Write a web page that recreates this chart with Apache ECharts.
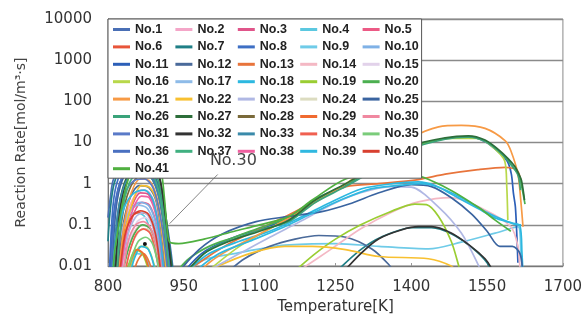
<!DOCTYPE html>
<html>
<head>
<meta charset="utf-8">
<script src="https://cdn.jsdelivr.net/npm/echarts@6/dist/echarts.min.js"></script>
<style>
  html, body { margin: 0; padding: 0; background: #fff; }
  #main { width: 585px; height: 320px; }
</style>
</head>
<body>
<div id="main"></div>
<script>
// 温度[K]と反応速度の組 [T, rate]、null は線の切れ目
var no1 = [[800,0.15],[805,0.5],[811,1.3],[829,2.8],[849,3.0],[869,2.7],[889,1.7],[906,0.55],[916,0.12],[924,0.025],[930,0.006]];
var no2 = [[820,0.008],[832,0.1],[848,0.4],[866,0.7],[882,0.6],[897,0.2],[907,0.02],[912,0.006]];
var no3 = [[822,0.008],[833,0.07],[848,0.3],[864,0.6],[880,0.55],[895,0.2],[906,0.03],[913,0.005]];
var no4 = [[812,0.008],[822,0.05],[838,0.15],[856,0.2],[874,0.15],[890,0.04],[900,0.008]];
var no5 = [[828,0.008],[838,0.05],[852,0.2],[867,0.35],[882,0.3],[896,0.1],[905,0.015],[910,0.005]];
var no6 = [[820,0.008],[830,0.05],[845,0.15],[862,0.2],[880,0.17],[895,0.05],[905,0.008]];
var no7 = [[800,0.04],[804,0.2],[812,1.0],[828,2.4],[848,2.9],[870,2.6],[890,1.5],[907,0.4],[917,0.08],[925,0.015],[930,0.005],[1000,null],
  [1255,0.008],[1300,0.025],[1340,0.05],[1400,0.085],[1440,0.085],[1480,0.06],[1520,0.028],[1550,0.012],[1560,0.006]];
var no8 = [[803,0.008],[810,0.3],[820,1.3],[836,2.4],[856,2.6],[876,2.1],[894,1.0],[908,0.25],[918,0.04],[926,0.008]];
var no9 = [[835,0.005],[845,0.012],[858,0.02],[872,0.018],[885,0.008],[892,0.004],[920,null],
  [950,0.006],[990,0.014],[1050,0.02],[1150,0.032],[1250,0.035],[1336,0.03],[1434,0.026],[1499,0.038],[1566,0.063],[1611,0.09],[1617,0.02],[1620,0.006]];
var no10 = [[818,0.008],[830,0.08],[846,0.25],[864,0.35],[882,0.28],[897,0.08],[906,0.01],[910,0.004]];
var no11 = [[805,0.008],[812,0.2],[823,1.0],[840,2.0],[862,2.2],[884,1.5],[900,0.6],[911,0.12],[920,0.02],[926,0.005],[935,null],
  [945,0.006],[985,0.02],[1040,0.045],[1100,0.08],[1158,0.14],[1210,0.42],[1270,0.9],[1336,2.6],[1400,7.5],[1467,12.5],[1513,13.8],[1546,10.5],[1572,6],[1590,3.5],[1598,1.7],[1602,0.6],[1606,0.27],[1609,0.05],[1611,0.012]];
var no12 = [[820,0.008],[830,0.1],[845,0.5],[862,0.9],[881,0.8],[896,0.35],[907,0.05],[914,0.008],[960,null],
  [1030,0.006],[1070,0.015],[1120,0.03],[1170,0.045],[1217,0.055],[1271,0.05],[1322,0.026],[1355,0.011],[1370,0.006]];
var no13 = [[848,0.005],[858,0.013],[870,0.02],[882,0.012],[892,0.004],[910,null],
  [930,0.004],[980,0.012],[1040,0.035],[1100,0.08],[1160,0.18],[1220,0.45],[1271,0.85],[1336,1.0],[1414,1.26],[1467,1.7],[1532,2.2],[1586,2.5],[1605,2.3],[1611,2.0],[1617,1.2]];
var no14 = [[826,0.008],[840,0.03],[856,0.08],[872,0.1],[888,0.06],[900,0.01],[1000,null],
  [1180,0.008],[1240,0.025],[1300,0.08],[1360,0.2],[1414,0.36],[1479,0.46],[1546,0.23],[1597,0.09],[1611,0.03],[1615,0.008]];
var no15 = [[830,0.008],[842,0.04],[858,0.12],[874,0.15],[890,0.08],[902,0.01]];
var no16 = [[838,0.005],[850,0.015],[864,0.03],[878,0.028],[892,0.01],[898,0.004],[950,null],
  [1000,0.008],[1060,0.03],[1120,0.08],[1180,0.22],[1240,0.6],[1300,1.6],[1360,4.5],[1420,9],[1480,12.5],[1530,12.5],[1560,8],[1585,3.5],[1589,0.8],[1591,0.13]];
var no17 = [[815,0.008],[826,0.06],[842,0.2],[860,0.3],[878,0.25],[894,0.08],[904,0.01],[908,0.004]];
var no18 = [[842,0.005],[852,0.015],[866,0.03],[880,0.025],[893,0.008],[920,null],
  [960,0.008],[1000,0.02],[1060,0.04],[1120,0.07],[1180,0.15],[1240,0.35],[1302,0.75],[1363,1.0],[1414,1.1],[1447,0.9],[1480,0.55],[1532,0.25],[1570,0.14],[1600,0.11],[1615,0.095],[1619,0.02],[1621,0.006]];
var no19 = [[832,0.005],[842,0.012],[855,0.025],[868,0.02],[880,0.008],[886,0.004],[1000,null],
  [1172,0.008],[1210,0.02],[1250,0.045],[1300,0.1],[1355,0.2],[1407,0.32],[1430,0.31],[1454,0.16],[1479,0.04],[1493,0.011],[1498,0.006]];
var no20 = [[828,0.005],[838,0.02],[852,0.06],[868,0.1],[884,0.08],[896,0.03],[905,0.008],[915,null],
  [930,0.006],[960,0.015],[1000,0.03],[1050,0.05],[1100,0.085],[1158,0.15],[1204,0.38],[1270,0.95],[1336,2.8],[1400,7.8],[1467,12.5],[1513,14],[1546,11],[1572,6.5],[1590,3.8],[1600,2.6],[1612,1.7],[1618,0.9],[1625,0.32]];
var no21 = [[822,0.008],[832,0.1],[846,0.6],[864,1.3],[881,1.2],[896,0.5],[907,0.08],[915,0.012],[920,0.004],[940,null],
  [970,0.005],[1000,0.012],[1040,0.025],[1100,0.06],[1160,0.15],[1220,0.42],[1271,1.0],[1336,3.8],[1400,13],[1454,24],[1499,26],[1546,22],[1586,11],[1597,6.3],[1611,1.7],[1617,0.35],[1621,0.09]];
var no22 = [[825,0.008],[835,0.08],[850,0.4],[866,0.9],[883,0.8],[897,0.35],[908,0.05],[915,0.008],[950,null],
  [1000,0.008],[1080,0.02],[1150,0.03],[1204,0.03],[1270,0.025],[1336,0.017],[1434,0.015],[1479,0.01],[1490,0.007]];
var no23 = [[826,0.008],[838,0.05],[854,0.15],[870,0.2],[886,0.12],[898,0.02],[950,null],
  [1000,0.008],[1060,0.02],[1120,0.05],[1180,0.12],[1240,0.3],[1300,0.6],[1360,0.85],[1400,0.82],[1454,0.27],[1499,0.063],[1532,0.011],[1540,0.006]];
var no24 = [[834,0.008],[846,0.03],[862,0.07],[878,0.08],[892,0.03],[902,0.006]];
var no25 = [[808,0.008],[816,0.25],[828,1.2],[845,2.3],[866,2.7],[885,2.0],[901,0.8],[912,0.15],[920,0.03],[927,0.006],[931,null],
  [935,0.006],[980,0.025],[1026,0.06],[1093,0.12],[1158,0.16],[1223,0.21],[1277,0.32],[1336,0.6],[1400,0.95],[1440,0.85],[1480,0.45],[1520,0.18],[1550,0.07],[1575,0.03],[1600,0.03],[1615,0.02],[1620,0.008]];
var no26 = [[815,0.008],[825,0.3],[840,1.5],[858,3.0],[877,3.2],[894,1.9],[906,0.5],[915,0.08],[922,0.015],[927,0.005],[940,null],
  [960,0.008],[1000,0.025],[1050,0.045],[1100,0.075],[1158,0.12],[1210,0.35],[1270,0.85],[1336,2.5],[1400,7],[1467,12],[1513,13.5],[1546,10.8],[1572,6.3],[1592,3.6],[1605,2.2],[1612,1.5],[1616,0.7]];
var no27 = [[812,0.008],[820,0.2],[832,1.0],[851,2.6],[872,3.9],[888,3.4],[901,1.6],[911,0.35],[919,0.05],[926,0.01],[935,null],
  [950,0.006],[990,0.02],[1040,0.04],[1100,0.07],[1158,0.13],[1210,0.4],[1270,1.0],[1336,2.9],[1400,8.3],[1467,13],[1513,14.5],[1546,11.5],[1572,6.8],[1592,4],[1605,2.6],[1612,1.8],[1618,1.2],[1624,0.4]];
var no28 = [[818,0.008],[828,0.15],[842,0.7],[860,1.5],[879,1.6],[895,0.85],[907,0.18],[916,0.02],[921,0.005]];
var no29 = [[836,0.005],[846,0.014],[858,0.025],[870,0.02],[882,0.008],[888,0.004]];
var no30 = [[830,0.006],[840,0.04],[855,0.1],[870,0.12],[885,0.08],[900,0.02],[908,0.005]];
var no31 = [[810,0.008],[820,0.1],[834,0.6],[852,1.2],[872,1.3],[890,0.75],[904,0.15],[914,0.02],[919,0.005]];
var no32 = [[815,0.008],[823,0.2],[835,1.0],[853,2.5],[874,3.6],[890,3.0],[903,1.2],[912,0.25],[920,0.03],[926,0.006],[1000,null],
  [1260,0.006],[1300,0.02],[1336,0.046],[1380,0.075],[1414,0.09],[1440,0.09],[1479,0.063],[1518,0.03],[1546,0.015],[1558,0.009],[1565,0.005]];
var no33 = [[810,0.008],[818,0.15],[832,0.9],[850,1.8],[871,2.0],[889,1.2],[903,0.35],[913,0.06],[921,0.01]];
var no34 = [[832,0.005],[842,0.02],[856,0.06],[870,0.08],[884,0.06],[897,0.015],[904,0.005]];
var no35 = [[835,0.005],[846,0.015],[860,0.04],[875,0.05],[888,0.035],[900,0.01],[905,0.005]];
var no36 = [[806,0.008],[813,0.2],[824,1.1],[841,2.2],[862,2.4],[882,1.9],[899,0.7],[911,0.12],[920,0.015],[925,0.005]];
var no37 = [[818,0.008],[828,0.2],[842,1.0],[861,2.0],[879,2.2],[895,1.1],[907,0.25],[916,0.03],[922,0.006]];
var no38 = [[826,0.008],[836,0.06],[850,0.25],[866,0.5],[882,0.45],[896,0.15],[906,0.02],[911,0.005]];
var no39 = [[810,0.01],[818,0.06],[834,0.3],[852,0.6],[872,0.7],[889,0.4],[902,0.06],[910,0.008],[940,null],
  [975,0.008],[1020,0.02],[1080,0.04],[1140,0.08],[1200,0.18],[1260,0.4],[1320,0.75],[1380,0.92],[1420,1.0],[1450,0.85],[1500,0.45],[1546,0.21],[1590,0.12],[1612,0.1],[1617,0.1]];
var no40 = [[824,0.008],[834,0.06],[848,0.16],[864,0.22],[880,0.18],[894,0.06],[903,0.01],[907,0.004]];
var no41 = [[810,0.008],[814,0.026],[824,0.16],[837,0.97],[857,3.6],[876,5.4],[886,5.2],[898,3.5],[906,1.8],[912,0.4],[916,0.11],[922,0.038],[940,0.035],
  [990,0.045],[1050,0.07],[1100,0.1],[1158,0.16],[1204,0.4],[1270,1.3],[1336,1.8],[1400,1.7],[1467,0.82],[1532,0.27],[1566,0.13],[1597,0.07]];

var seriesValues = [no1,no2,no3,no4,no5,no6,no7,no8,no9,no10,no11,no12,no13,no14,no15,no16,no17,no18,no19,no20,
  no21,no22,no23,no24,no25,no26,no27,no28,no29,no30,no31,no32,no33,no34,no35,no36,no37,no38,no39,no40,no41];
var seriesNames = seriesValues.map(function (d, i) { return "No." + (i + 1); });

var colors = ["#4a6fb5","#f4a6c8","#e0558a","#5bc8e0","#ec5a85","#e8553a","#1f7f86","#3e6fc4","#6fcbe8","#7fb1e6",
  "#2c5fb8","#4a6a9a","#e8743b","#f4b8c4","#e2d2ea","#b8d84a","#8ebbe8","#2cb8e0","#9acd32","#4caf50",
  "#f79a45","#f8c030","#b0b8e4","#dcdcc0","#3a64a0","#3aa37a","#2d6e3a","#7a6a3a","#f06a30","#f088a0",
  "#5a7ac8","#333333","#3a8aaa","#f06050","#7acc7a","#4a70c0","#40b080","#f060a0","#30b8e0","#d84030","#50b040"];

var yTickLabels = ["0.01", "0.1", "1", "10", "100", "1000", "10000"];

var myChart = echarts.init(document.getElementById("main"));

var series = seriesValues.map(function (d, i) {
  var s = {
    name: seriesNames[i],
    type: "line",
    data: d,
    symbol: "none",
    smooth: 0.3,
    clip: true,
    lineStyle: { width: 1.7, color: colors[i] },
    itemStyle: { color: colors[i] }
  };
  if (seriesNames[i] === "No.30") {
    // 注記線とラベル
    s.markLine = {
      silent: true,
      symbol: "none",
      label: { show: false },
      lineStyle: { color: "#666", width: 0.8, type: "solid" },
      data: [[{ coord: [922, 0.107] }, { coord: [1017, 1.67] }]]
    };
    s.markPoint = {
      silent: true,
      data: [
        {
          coord: [1048, 3.6], symbol: "circle", symbolSize: 0,
          label: { show: true, position: "inside", formatter: "No.30", color: "#444", fontSize: 16, fontFamily: "DejaVu Sans" }
        },
        {
          coord: [873, 0.034], symbol: "circle", symbolSize: 4,
          itemStyle: { color: "#111" }, label: { show: false }
        }
      ]
    };
  }
  return s;
});

var option = {
  animation: false,
  color: colors,
  grid: {
    left: 108,
    right: 20,
    top: 19,
    bottom: 50,
    show: true,
    borderColor: "#8a8a8a",
    borderWidth: 1
  },
  legend: {
    data: seriesNames,
    left: 108,
    top: 19,
    width: 312,
    padding: [4, 1, 3, 5],
    itemGap: 4.4,
    itemWidth: 17,
    itemHeight: 3,
    icon: "rect",
    backgroundColor: "#fff",
    borderColor: "#555",
    borderWidth: 1,
    textStyle: {
      fontFamily: "Liberation Sans",
      fontWeight: "bold",
      fontSize: 12.5,
      color: "#222",
      width: 36,
      lineHeight: 8
    }
  },
  xAxis: {
    type: "value",
    min: 800,
    max: 1700,
    interval: 150,
    name: "Temperature[K]",
    nameLocation: "middle",
    nameGap: 34,
    nameTextStyle: { fontFamily: "DejaVu Sans", fontSize: 15, color: "#333" },
    axisLine: { lineStyle: { color: "#777" } },
    axisTick: { inside: true, length: 3, lineStyle: { color: "#999" } },
    axisLabel: {
      fontFamily: "DejaVu Sans", fontSize: 15, color: "#333", margin: 14,
      formatter: function (v) { return String(v); }
    },
    splitLine: { show: false }
  },
  yAxis: {
    type: "log",
    logBase: 10,
    min: 0.01,
    max: 10000,
    name: "Reaction Rate[mol/m³·s]",
    nameLocation: "middle",
    nameGap: 80,
    nameTextStyle: { fontFamily: "DejaVu Sans", fontSize: 14, color: "#444" },
    axisLine: { show: true, lineStyle: { color: "#777" } },
    axisTick: { show: false },
    axisLabel: {
      fontFamily: "DejaVu Sans",
      fontSize: 15,
      color: "#333",
      margin: 16,
      formatter: function (v) {
        return yTickLabels[Math.round(Math.log10(v)) + 2];
      }
    },
    splitLine: { show: true, lineStyle: { color: "#8a8a8a", width: 1.3 } }
  },
  series: series
};

myChart.setOption(option);
</script>
</body>
</html>
